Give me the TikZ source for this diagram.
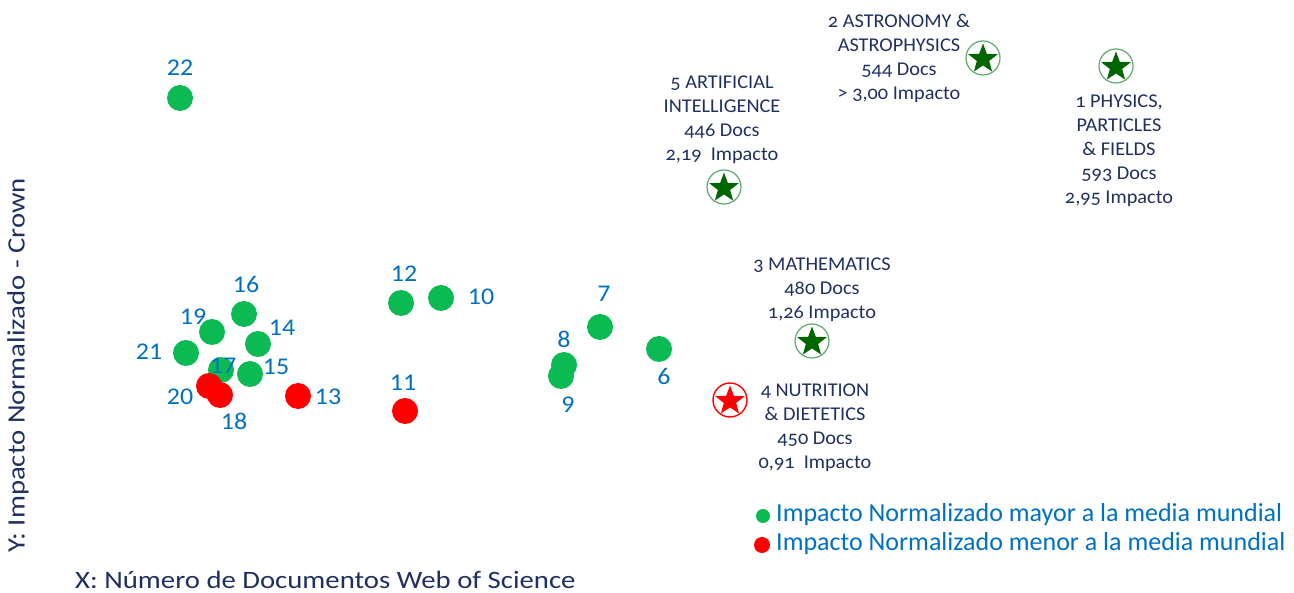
\documentclass[tikz,border=0pt]{standalone}
\usepackage{fontspec}
\setmainfont{Carlito}
\newfontfamily\oldfig[Numbers=OldStyle,FakeStretch=1.04]{Carlito}
\newfontfamily\widefont[FakeStretch=1.15]{Carlito}
\newfontfamily\numfont[FakeStretch=1.08]{Carlito}
\usetikzlibrary{shapes.geometric}
\definecolor{gdot}{HTML}{0BBA52}
\definecolor{rdot}{HTML}{FF0000}
\definecolor{bluetxt}{HTML}{0070C0}
\definecolor{navy}{HTML}{1F3060}
\definecolor{stargreen}{HTML}{006600}
\definecolor{ringgreen}{HTML}{5DAA6E}
\tikzset{
  gpt/.style={circle,fill=gdot,minimum size=26pt,inner sep=0pt},
  rpt/.style={circle,fill=rdot,minimum size=26pt,inner sep=0pt},
  num/.style={text=bluetxt,font=\numfont\fontsize{24}{24}\selectfont,inner sep=0pt},
  ring/.style={circle,draw=ringgreen,line width=1.2pt,fill=white,minimum size=34pt,inner sep=0pt},
  rring/.style={circle,draw=rdot,line width=1.4pt,fill=white,minimum size=34pt,inner sep=0pt},
  gstar/.style={star,star points=5,star point ratio=2.4,fill=stargreen,minimum size=31pt,inner sep=0pt},
  rstar/.style={star,star points=5,star point ratio=2.4,fill=rdot,minimum size=31pt,inner sep=0pt},
  lab/.style={text=navy,font=\oldfig\fontsize{19.5}{24}\selectfont,align=center,inner sep=0pt},
  leg/.style={text=bluetxt,font=\fontsize{26}{28}\selectfont,anchor=west,inner sep=0pt},
  axl/.style={text=navy,font=\widefont\fontsize{25}{28}\selectfont,inner sep=0pt}
}
\begin{document}
\begin{tikzpicture}[x=1pt,y=-1pt]
\useasboundingbox (0,0) rectangle (1294,593);
% green points
\node[gpt] (p22) at (180,98) {};
\node[num] (n22) at (180,68) {22};
\node[gpt] (p16) at (244,314) {};
\node[num] (n16) at (246,284) {16};
\node[gpt] (p19) at (212,332) {};
\node[num] (n19) at (193,317) {19};
\node[gpt] (p14) at (258,344) {};
\node[num] (n14) at (282,328) {14};
\node[gpt] (p21) at (186,353) {};
\node[num] (n21) at (149,352) {21};
\node[gpt] (p17) at (221,370) {};
\node[gpt] (p15) at (250,374) {};
\node[num] (n15) at (276,367) {15};
% red points
\node[rpt] (p20) at (209,386) {};
\node[rpt] (p18) at (220,395) {};
\node[num] (n17) at (223,366) {17};
\node[num] (n20) at (180,397) {20};
\node[num] (n18) at (234,421) {18};
\node[rpt] (p13) at (298,396) {};
\node[num] (n13) at (328,397) {13};
\node[gpt] (p12) at (401,303) {};
\node[num] (n12) at (404,274) {12};
\node[gpt] (p10) at (441,298) {};
\node[num] (n10) at (481,297) {10};
\node[rpt] (p11) at (405,411) {};
\node[num] (n11) at (403,383) {11};
\node[gpt] (p8) at (564,365) {};
\node[num] (n8) at (564,339) {8};
\node[gpt] (p9) at (561,376) {};
\node[num] (n9) at (568,405) {9};
\node[gpt] (p7) at (600,327) {};
\node[num] (n7) at (604,294) {7};
\node[gpt] (p6) at (659,349) {};
\node[num] (n6) at (664,376) {6};
% stars
\node[ring] (r5) at (724,187) {};
\node[gstar] (s5) at (724,188) {};
\node[lab] (l5) at (722,120) {5 ARTIFICIAL\\INTELLIGENCE\\446 Docs\\2,19\ \ Impacto};
\node[ring] (r2) at (983,58) {};
\node[gstar] (s2) at (983,59) {};
\node[lab] (l2) at (899,58) {2 ASTRONOMY \&\\ASTROPHYSICS\\544 Docs\\> 3,00 Impacto};
\node[ring] (r1) at (1116,66) {};
\node[gstar] (s1) at (1116,67) {};
\node[lab] (l1) at (1119,151) {1 PHYSICS,\\PARTICLES\\\& FIELDS\\593 Docs\\2,95 Impacto};
\node[ring] (r3) at (812,341) {};
\node[gstar] (s3) at (812,342) {};
\node[lab] (l3) at (822,290) {3 MATHEMATICS\\480 Docs\\1,26 Impacto};
\node[rring] (r4) at (730,400) {};
\node[rstar] (s4) at (730,401) {};
\node[lab] (l4) at (815,428) {4 NUTRITION\\\& DIETETICS\\450 Docs\\0,91\ \ Impacto};
% legend
\node[circle,fill=gdot,minimum size=14pt,inner sep=0pt] (lg1) at (763,516) {};
\node[leg] (lt1) at (776,515) {Impacto Normalizado mayor a la media mundial};
\node[circle,fill=rdot,minimum size=16pt,inner sep=0pt] (lg2) at (762,545) {};
\node[leg] (lt2) at (776,544) {Impacto Normalizado menor a la media mundial};
% axes labels
\node[axl,anchor=west] (xl) at (75,580) {X: Número de Documentos Web of Science};
\node[axl,rotate=90] (yl) at (18,365) {Y: Impacto Normalizado - Crown};
\end{tikzpicture}
\end{document}
